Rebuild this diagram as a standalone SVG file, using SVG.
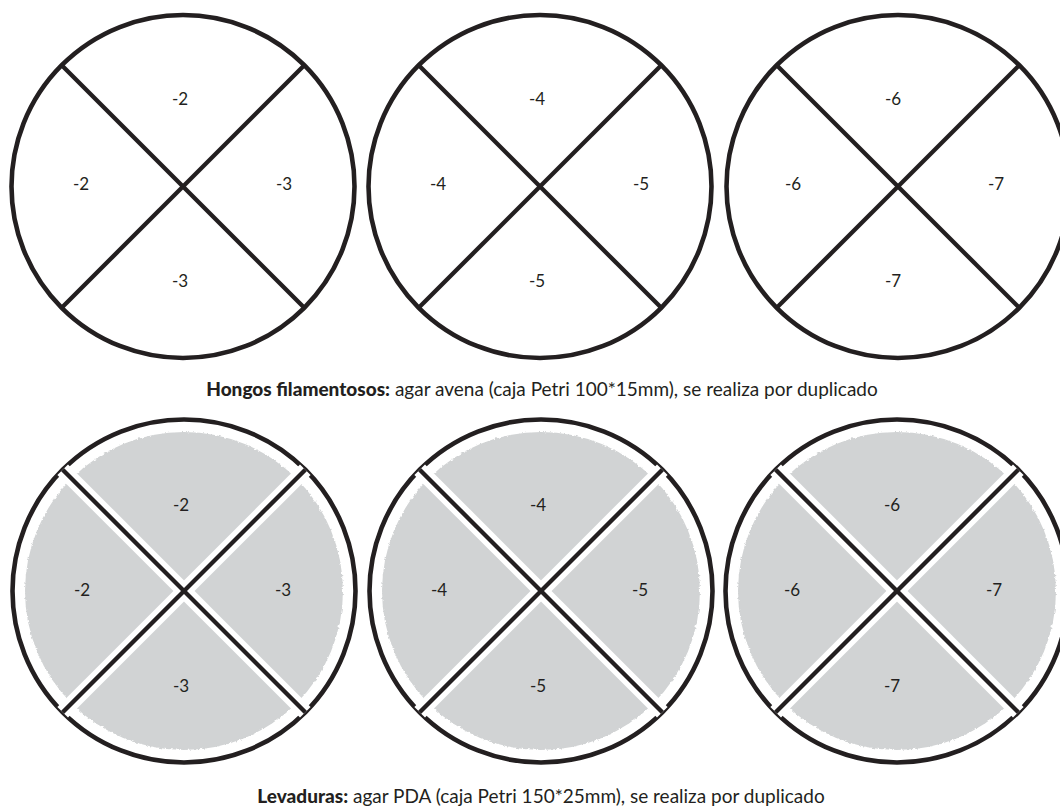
<svg xmlns="http://www.w3.org/2000/svg" width="1060" height="806" viewBox="0 0 1060 806">
  <defs>
    <filter id="rough" x="-5%" y="-5%" width="110%" height="110%">
      <feTurbulence type="fractalNoise" baseFrequency="0.35" numOctaves="2" seed="3" result="n"/>
      <feDisplacementMap in="SourceGraphic" in2="n" scale="3" xChannelSelector="R" yChannelSelector="G"/>
    </filter>
    <g id="cross">
      <line x1="-121.3" y1="-121.3" x2="121.3" y2="121.3"/>
      <line x1="121.3" y1="-121.3" x2="-121.3" y2="121.3"/>
    </g>
  </defs>
  <style>
    .ring { fill: #ffffff; stroke: #231f20; stroke-width: 4.6; }
    .x { stroke: #231f20; stroke-width: 4.3; fill: none; }
    .gap { stroke: #ffffff; stroke-width: 15; fill: none; }
    .agar { fill: #d1d3d4; }
    .lbl { font-family: Lato, "Liberation Sans", sans-serif; font-size: 17px; fill: #231f20; text-anchor: middle; }
    .cap { font-family: Lato, "Liberation Sans", sans-serif; font-size: 19px; fill: #231f20; text-anchor: middle; }
    .cap .b { font-weight: 900; }
  </style>

  <rect x="0" y="0" width="1060" height="806" fill="#ffffff"/>

  <!-- Top row: Hongos filamentosos -->
  <g id="dish-top-1" transform="translate(183,186.5)">
    <circle class="ring" r="171.5"/>
    <use href="#cross" class="x"/>
    <text class="lbl" x="-3" y="-82">-2</text>
    <text class="lbl" x="-102" y="3">-2</text>
    <text class="lbl" x="101" y="3">-3</text>
    <text class="lbl" x="-3" y="100">-3</text>
  </g>
  <g id="dish-top-2" transform="translate(540,186.5)">
    <circle class="ring" r="171.5"/>
    <use href="#cross" class="x"/>
    <text class="lbl" x="-3" y="-82">-4</text>
    <text class="lbl" x="-102" y="3">-4</text>
    <text class="lbl" x="101" y="3">-5</text>
    <text class="lbl" x="-3" y="100">-5</text>
  </g>
  <g id="dish-top-3" transform="translate(898,186.5)">
    <circle class="ring" r="171.5"/>
    <use href="#cross" class="x"/>
    <text class="lbl" x="-5" y="-82">-6</text>
    <text class="lbl" x="-105" y="3">-6</text>
    <text class="lbl" x="98" y="3">-7</text>
    <text class="lbl" x="-5" y="100">-7</text>
  </g>

  <text id="caption-top" class="cap" x="542" y="396"><tspan class="b">Hongos filamentosos:</tspan> agar avena (caja Petri 100*15mm), se realiza por duplicado</text>

  <!-- Bottom row: Levaduras -->
  <g id="dish-bottom-1" transform="translate(184,591)">
    <circle class="ring" r="171.5"/>
    <circle class="agar" r="159" filter="url(#rough)"/>
    <use href="#cross" class="gap"/>
    <use href="#cross" class="x"/>
    <text class="lbl" x="-3" y="-80">-2</text>
    <text class="lbl" x="-102" y="5">-2</text>
    <text class="lbl" x="99" y="5">-3</text>
    <text class="lbl" x="-3" y="101">-3</text>
  </g>
  <g id="dish-bottom-2" transform="translate(541,591)">
    <circle class="ring" r="171.5"/>
    <circle class="agar" r="159" filter="url(#rough)"/>
    <use href="#cross" class="gap"/>
    <use href="#cross" class="x"/>
    <text class="lbl" x="-3" y="-80">-4</text>
    <text class="lbl" x="-102" y="5">-4</text>
    <text class="lbl" x="99" y="5">-5</text>
    <text class="lbl" x="-3" y="101">-5</text>
  </g>
  <g id="dish-bottom-3" transform="translate(897,591)">
    <circle class="ring" r="171.5"/>
    <circle class="agar" r="159" filter="url(#rough)"/>
    <use href="#cross" class="gap"/>
    <use href="#cross" class="x"/>
    <text class="lbl" x="-5" y="-80">-6</text>
    <text class="lbl" x="-105" y="5">-6</text>
    <text class="lbl" x="97" y="5">-7</text>
    <text class="lbl" x="-5" y="101">-7</text>
  </g>

  <text id="caption-bottom" class="cap" x="541" y="803"><tspan class="b">Levaduras:</tspan> agar PDA (caja Petri 150*25mm), se realiza por duplicado</text>
</svg>
